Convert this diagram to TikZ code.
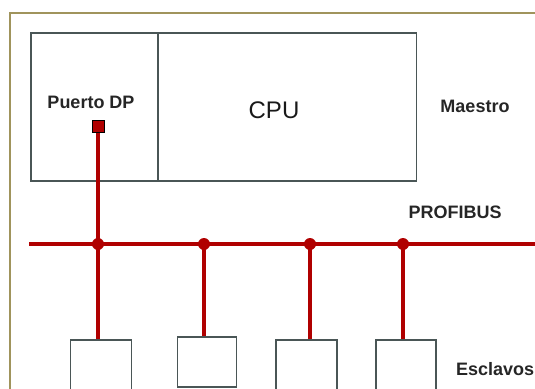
\documentclass[tikz,border=0pt]{standalone}
\usepackage{fontspec}
\setmainfont{Liberation Sans}
\definecolor{busred}{HTML}{B00000}
\definecolor{boxgray}{HTML}{4A5656}
\definecolor{framecol}{HTML}{A0945C}
\begin{document}
\begin{tikzpicture}[x=1pt,y=-1pt,
  unit/.style={draw=boxgray,line width=1.6pt,inner sep=0pt},
  lbl/.style={font=\fontsize{18}{20}\selectfont\bfseries,inner sep=0pt,text=black!85},
  bus/.style={draw=busred,line width=3.6pt},
  junc/.style={circle,fill=busred,inner sep=0pt,minimum size=12pt}]
\useasboundingbox (0,0) rectangle (535,388);
% outer frame
\coordinate (fb) at (10,400);
\coordinate (fc) at (10,13);
\coordinate (fr) at (545,13);
\draw[framecol,line width=1.4pt] (fb) -- (fc) -- (fr);
% master
\node[unit,minimum width=127pt,minimum height=148pt] (portbox) at (94.5,107) {};
\node[unit,minimum width=258pt,minimum height=148pt] (cpubox) at (287.5,107) {};
\node[lbl] (puerto) at (91,102) {Puerto DP};
\node[font=\fontsize{24}{26}\selectfont,inner sep=0pt,text=black!90] (cpu) at (274,110) {CPU};
\node[lbl] (maestro) at (475,106) {Maestro};
\node[lbl] (profibus) at (455,212) {PROFIBUS};
\node[lbl,anchor=west] (esclavos) at (456,369) {Esclavos};
% slaves
\node[unit,anchor=north,minimum width=61pt,minimum height=60pt] (s1) at (101,339) {};
\node[unit,anchor=north,minimum width=59pt,minimum height=50pt] (s2) at (207,336) {};
\node[unit,anchor=north,minimum width=61pt,minimum height=60pt] (s3) at (306.5,339) {};
\node[unit,anchor=north,minimum width=60pt,minimum height=60pt] (s4) at (406,339) {};
% bus
\coordinate (busL) at (29,244);
\coordinate (busR) at (540,244);
\coordinate (j1) at (98,244);
\coordinate (j2) at (204,244);
\coordinate (j3) at (310,244);
\coordinate (j4) at (403,244);
\draw[bus] (busL) -- (busR);
% port
\node[draw=black,line width=1pt,fill=busred,minimum size=12pt,inner sep=0pt] (port) at (98,126) {};
\draw[bus] (port.south) -- (port.south |- s1.north);
\draw[bus] (j2) -- (j2 |- s2.north);
\draw[bus] (j3) -- (j3 |- s3.north);
\draw[bus] (j4) -- (j4 |- s4.north);
\foreach \j in {j1,j2,j3,j4} \node[junc] at (\j) {};
\end{tikzpicture}
\end{document}
